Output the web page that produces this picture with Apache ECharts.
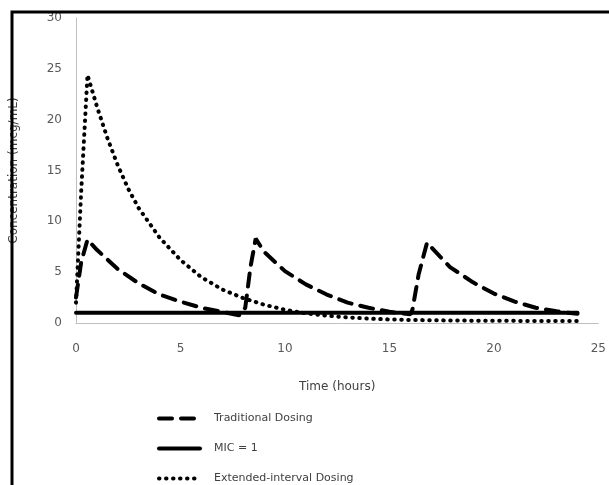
<!DOCTYPE html>
<html>
<head>
<meta charset="utf-8">
<script src="https://cdn.jsdelivr.net/npm/echarts@6/dist/echarts.min.js"></script>
<style>
    html, body { margin: 0; padding: 0; background: #fff; }
    #ChartDIV { width: 609px; height: 485px; }
</style>
</head>
<body>
<div id="ChartDIV"></div>
<script>
// Traditional dosing (every 8 h)
var tradTimes = [0, 0.25, 0.55, 1, 2, 3, 4, 5, 6, 7, 7.8, 8.1, 8.35, 8.6, 9, 10, 11, 12, 13, 14, 15, 16, 16.1, 16.4, 16.8, 17.9, 19, 20, 21, 22, 23, 24];
var tradValues = [2.5, 6.0, 8.2, 7.2, 5.3, 3.9, 2.8, 2.1, 1.5, 1.1, 0.75, 1.5, 5.5, 8.3, 7.0, 5.1, 3.8, 2.8, 2.0, 1.5, 1.1, 0.85, 1.3, 4.8, 7.9, 5.5, 4.0, 2.9, 2.1, 1.5, 1.15, 0.9];

// MIC = 1
var micTimes = [0, 24];
var micValues = [1, 1];

// Extended-interval dosing (once a day)
var extTimes = [0, 0.25, 0.55, 1, 1.5, 2, 2.5, 3, 4, 5, 6, 7, 8, 9, 10, 11, 12, 13, 14, 15, 16, 17, 18, 19, 20, 21, 22, 23, 24];
var extValues = [2.0, 13.0, 24.4, 21.3, 18.2, 15.5, 13.2, 11.3, 8.4, 6.2, 4.5, 3.3, 2.45, 1.8, 1.3, 0.95, 0.72, 0.55, 0.43, 0.35, 0.3, 0.27, 0.25, 0.23, 0.22, 0.21, 0.2, 0.2, 0.2];

var seriesNames = ['Traditional Dosing', 'MIC = 1', 'Extended-interval Dosing'];

function pairs(xs, ys) {
    var res = [];
    for (var i = 0; i < xs.length; i++) {
        res.push([xs[i], ys[i]]);
    }
    return res;
}

var myChart = echarts.init(document.getElementById('ChartDIV'));
var font = 'DejaVu Sans';

var option = {
    animation: false,
    backgroundColor: '#ffffff',
    grid: { left: 75, right: 8, top: 18, bottom: 162 },
    legend: {
        orient: 'vertical',
        left: 157,
        top: 413,
        height: 120,
        padding: 0,
        itemWidth: 41,
        itemHeight: 12,
        itemGap: 19,
        data: seriesNames,
        itemStyle: { color: 'transparent', borderWidth: 0, opacity: 0 },
        lineStyle: { width: 4 },
        textStyle: { fontFamily: font, fontSize: 11, color: '#404040', padding: [0, 0, 0, 9] }
    },
    xAxis: {
        type: 'value',
        min: 0,
        max: 25,
        interval: 5,
        name: 'Time (hours)',
        nameLocation: 'middle',
        nameGap: 58,
        nameTextStyle: { fontFamily: font, fontSize: 12, color: '#404040' },
        axisLine: { lineStyle: { color: '#bfbfbf', width: 1 } },
        axisTick: { show: false },
        splitLine: { show: false },
        axisLabel: { fontFamily: font, fontSize: 12, color: '#595959', margin: 20 }
    },
    yAxis: {
        type: 'value',
        min: 0,
        max: 30,
        interval: 5,
        name: 'Concentration (mcg/mL)',
        nameLocation: 'middle',
        nameGap: 56,
        nameTextStyle: { fontFamily: font, fontSize: 12, color: '#404040' },
        axisLine: { show: true, lineStyle: { color: '#bfbfbf', width: 1 } },
        axisTick: { show: false },
        splitLine: { show: false },
        axisLabel: { fontFamily: font, fontSize: 12, color: '#595959', margin: 14 }
    },
    series: [
        {
            name: seriesNames[0],
            type: 'line',
            symbol: 'none',
            data: pairs(tradTimes, tradValues),
            itemStyle: { color: '#000' },
            lineStyle: { color: '#000', width: 4, type: [13, 9], cap: 'round' }
        },
        {
            name: seriesNames[1],
            type: 'line',
            symbol: 'none',
            data: pairs(micTimes, micValues),
            itemStyle: { color: '#000' },
            lineStyle: { color: '#000', width: 4, type: 'solid', cap: 'round' }
        },
        {
            name: seriesNames[2],
            type: 'line',
            symbol: 'none',
            data: pairs(extTimes, extValues),
            itemStyle: { color: '#000' },
            lineStyle: { color: '#000', width: 4, type: [0.5, 6.5], cap: 'round' }
        }
    ],
    graphic: [
        {
            type: 'rect',
            z: 100,
            shape: { x: 12, y: 12, width: 700, height: 600 },
            style: { fill: 'none', stroke: '#000', lineWidth: 3 }
        }
    ]
};

myChart.setOption(option);

//-- 圖表自適應
window.addEventListener('resize', function () {
    myChart.resize();
});
</script>
</body>
</html>
